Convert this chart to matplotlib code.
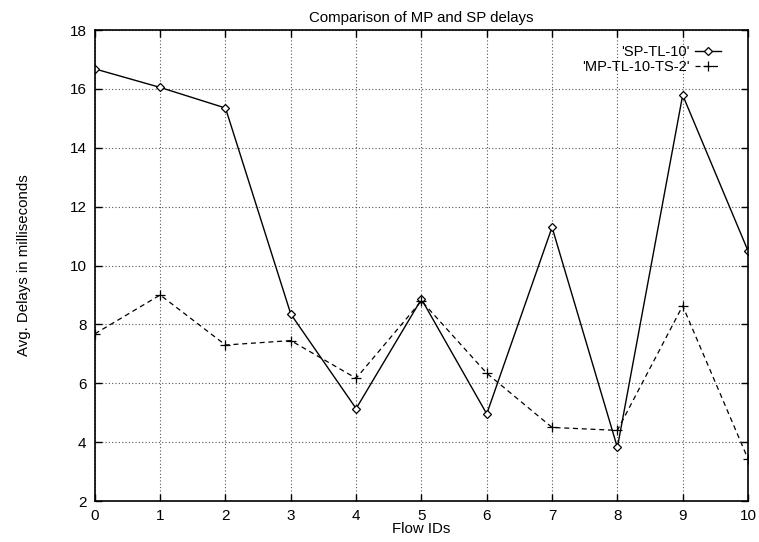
import matplotlib.pyplot as plt

plt.rcParams['font.family'] = ['Liberation Sans', 'DejaVu Sans']

# Flow IDs and average delays (ms) for the two routing schemes
flow_ids = [0, 1, 2, 3, 4, 5, 6, 7, 8, 9, 10]
sp_delays = [16.68, 16.05, 15.35, 8.35, 5.14, 8.86, 4.96, 11.3, 3.82, 15.79, 10.5]
mp_delays = [7.68, 9.0, 7.3, 7.45, 6.17, 8.8, 6.34, 4.5, 4.4, 8.63, 3.43]

fig = plt.figure(figsize=(7.59, 5.42), dpi=100)
ax = fig.add_axes([0.125, 0.0756, 0.8605, 0.869])

ax.plot(flow_ids, sp_delays, color='black', linewidth=1.0, marker='D',
        markersize=4.2, markerfacecolor='white', markeredgecolor='black',
        markeredgewidth=0.9, label="'SP-TL-10'")
ax.plot(flow_ids, mp_delays, color='black', linewidth=0.9, linestyle=(0, (4, 3)),
        marker='+', markersize=7, markeredgewidth=0.9,
        label="'MP-TL-10-TS-2'")

ax.set_xlim(0, 10)
ax.set_ylim(2, 18)
ax.set_xticks(range(0, 11))
ax.set_yticks(range(2, 19, 2))

ax.grid(True, linestyle=(0, (1, 2)), color='#555555', linewidth=0.8)
ax.tick_params(direction='in', length=5, width=1, top=True, right=True,
               labelsize=11, pad=6)
for s in ax.spines.values():
    s.set_linewidth(1.2)

ax.set_title('Comparison of MP and SP delays', fontsize=10.8, pad=6)
ax.set_xlabel('Flow IDs', fontsize=10.8, labelpad=-1)
ax.set_ylabel('Avg. Delays in milliseconds', fontsize=10.8, labelpad=28)

ax.legend(loc='upper right', bbox_to_anchor=(0.975, 0.99), frameon=False,
          markerfirst=False, fontsize=10.5, handlelength=1.8, handletextpad=0.4,
          labelspacing=0.05, borderaxespad=0.3)
for t in ax.get_legend().get_texts():
    t.set_ha('right')
ax.get_legend()._legend_box.align = 'right'

fig.savefig('out.png', dpi=100)
